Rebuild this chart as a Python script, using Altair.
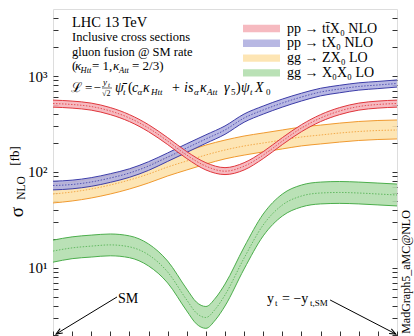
import altair as alt
import pandas as pd

FONT = "Liberation Serif"

# ---------------- data ----------------
alpha = [0, 10, 20, 30, 40, 50, 60, 70, 80, 90, 100, 110, 120, 130, 140, 150, 160, 170, 180]

ttx0_c = [517, 505, 481, 432, 365, 287, 210, 150, 115, 102, 115, 150, 210, 287, 365, 432, 481, 505, 517]
ttx0_hi = [561, 548, 522, 469, 396, 311, 228, 163, 125, 111, 125, 163, 228, 311, 396, 469, 522, 548, 561]
ttx0_lo = [474, 463, 441, 396, 335, 263, 193, 138, 105, 94, 105, 138, 193, 263, 335, 396, 441, 463, 474]

tx0_c = [72.3, 74.1, 78.7, 86.6, 97.6, 115.5, 143, 178, 221, 274, 365, 443, 523, 604, 681, 732, 778, 806, 836]
tx0_hi = [80.2, 82.2, 87.3, 96.0, 108, 128, 158, 197, 244, 302, 402, 487, 575, 662, 745, 800, 849, 878, 910]
tx0_lo = [65.1, 66.8, 70.9, 78.0, 88.0, 104, 129, 160, 199, 247, 330, 401, 474, 549, 621, 669, 713, 739, 767]

zx0_c = [59.0, 61.9, 66.5, 73.2, 82.5, 95.3, 112.7, 130.2, 150.4, 169.5, 186.6, 200.5, 215.4, 231.6, 242.9, 254.7, 264.2, 270.6, 273.8]
zx0_hi = [75, 78.6, 84.5, 93, 105, 121, 143, 165, 191, 215, 237, 255, 274, 294, 308, 323, 336, 344, 348]
zx0_lo = [47.6, 49.9, 53.6, 59, 66.5, 76.9, 90.9, 105, 121, 137, 150, 162, 174, 187, 196, 205, 213, 218, 221]

alpha_hh = [0, 10, 20, 30, 40, 50, 60, 70, 75, 80, 85, 90, 100, 110, 120, 130, 140, 150, 160, 170, 180]
x0x0_c = [15.0, 16.2, 16.9, 17.4, 16.6, 13.7, 9.08, 4.64, 3.40, 3.05, 3.74, 5.23, 12.7, 28.1, 45.3, 56.2, 60.4, 61.2, 60.4, 59.0, 57.6]
x0x0_hi = [19.5, 21.1, 22.0, 22.6, 21.6, 17.8, 11.8, 6.03, 4.42, 3.97, 4.86, 6.80, 16.5, 36.5, 58.9, 73.1, 78.5, 79.6, 78.5, 76.7, 74.9]
x0x0_lo = [11.5, 12.5, 13.0, 13.4, 12.8, 10.5, 6.98, 3.57, 2.62, 2.35, 2.88, 4.02, 9.77, 21.6, 34.8, 43.2, 46.5, 47.1, 46.5, 45.4, 44.3]

labels = ["pp \u2192 tt\u0304X\u2080  NLO", "pp \u2192 tX\u2080  NLO", "gg \u2192 ZX\u2080  LO", "gg \u2192 X\u2080X\u2080  LO"]
fills = ["#f5b3b9", "#b0b0e0", "#fde2ac", "#b3deae"]
edges = ["#e0363c", "#3c3ca8", "#f09a30", "#4cae4c"]

y_ticks = [2, 3, 4, 5, 6, 7, 8, 9, 10, 20, 30, 40, 50, 60, 70, 80, 90, 100,
           200, 300, 400, 500, 600, 700, 800, 900, 1000, 2000, 3000, 4000]
x_ticks = list(range(0, 181, 10))

# annotation arrows in data coordinates (alpha, sigma)
arrows = pd.DataFrame({
    "x1": [33.5, 145.0], "y1": [4.99, 4.64],
    "x2": [1.6, 179.4], "y2": [2.05, 2.05],
    "ang": [238.5, 117.0],
})

# ---------------- scales / axes ----------------
xs = alt.Scale(domain=[0, 180], nice=False, zero=False)
ys = alt.Scale(type="log", domain=[1.91, 4990], nice=False)

x_axis = alt.Axis(orient="bottom", values=x_ticks, labels=False, title=None, domain=False,
                  grid=False, offset=-6, tickSize=6, tickColor="#333")
y_axis = alt.Axis(orient="left", values=y_ticks, title=None, domain=False, grid=False,
                  offset=-5, tickSize=5, tickColor="#333", labelOverlap=False, labelFlush=False,
                  labelExpr="datum.value == 10 ? '10\u00b9' : datum.value == 100 ? '10\u00b2' : datum.value == 1000 ? '10\u00b3' : ''",
                  labelFont=FONT, labelFontSize=15, labelColor="black", labelPadding=6)
y_axis_r = alt.Axis(orient="right", values=y_ticks, title=None, domain=False, grid=False,
                    offset=-5, tickSize=5, tickColor="#333", labels=False)

fill_scale = alt.Scale(domain=labels, range=fills)
legend = alt.Legend(orient="none", legendX=190, legendY=12.5, title=None,
                    symbolType="M-1,-0.2L1,-0.2L1,0.2L-1,0.2Z", symbolSize=1369,
                    symbolStrokeWidth=0, symbolOpacity=0.9, clipHeight=14,
                    labelFont=FONT, labelFontSize=14, labelColor="black", labelOffset=7,
                    rowPadding=0.8, padding=0, labelLimit=300)

X = alt.X("alpha:Q", scale=xs, axis=x_axis)

procs = [  # draw order: bottom to top
    (labels[3], edges[3], alpha_hh, x0x0_c, x0x0_lo, x0x0_hi),
    (labels[2], edges[2], alpha, zx0_c, zx0_lo, zx0_hi),
    (labels[1], edges[1], alpha, tx0_c, tx0_lo, tx0_hi),
    (labels[0], edges[0], alpha, ttx0_c, ttx0_lo, ttx0_hi),
]

band_layers = []
for lab, edge, a, c, lo, hi in procs:
    df = pd.DataFrame({"alpha": a, "c": c, "lo": lo, "hi": hi, "proc": [lab] * len(a)})
    b = alt.Chart(df)
    band_layers.append(b.mark_area(interpolate="monotone", opacity=0.9).encode(
        x=X, y=alt.Y("lo:Q", scale=ys, axis=y_axis), y2="hi:Q",
        fill=alt.Fill("proc:N", scale=fill_scale, legend=legend)))
    for col in ["lo", "hi"]:
        band_layers.append(b.mark_line(interpolate="monotone", color=edge, strokeWidth=1).encode(
            x=X, y=alt.Y(f"{col}:Q", scale=ys, axis=y_axis)))
    band_layers.append(b.mark_line(interpolate="monotone", color=edge, strokeWidth=0.8,
                                   strokeDash=[1.5, 1.5]).encode(
        x=X, y=alt.Y("c:Q", scale=ys, axis=y_axis)))

arrow_base = alt.Chart(arrows)
band_layers.append(arrow_base.mark_rule(color="black", strokeWidth=1).encode(
    x=alt.X("x1:Q", scale=xs, axis=x_axis), y=alt.Y("y1:Q", scale=ys, axis=y_axis),
    x2="x2:Q", y2="y2:Q"))
band_layers.append(arrow_base.mark_point(shape="M-0.8,2L0,0L0.8,2", filled=False, size=40,
                                         strokeWidth=1, color="black", opacity=1).encode(
    x=alt.X("x2:Q", scale=xs, axis=x_axis), y=alt.Y("y2:Q", scale=ys, axis=y_axis),
    angle=alt.Angle("ang:Q", scale=None)))

bands = alt.layer(*band_layers)

right_df = pd.DataFrame({"alpha": alpha, "c": tx0_c})
right_layer = alt.Chart(right_df).mark_point(opacity=0).encode(
    x=X, y=alt.Y("c:Q", scale=ys, axis=y_axis_r))

plot = alt.layer(bands, right_layer).resolve_axis(y="independent")

# ---------------- text annotations ----------------
L0, T0 = 53, 9
one = pd.DataFrame({"k": [0]})


def txt(s, x, y, size, italic=False, angle=None, align="left", baseline="alphabetic"):
    kw = dict(text=s, fontSize=size, font=FONT, align=align, baseline=baseline, color="black")
    if italic:
        kw["fontStyle"] = "italic"
    if angle is not None:
        kw["angle"] = angle
    return alt.Chart(one).mark_text(**kw).encode(x=alt.value(x - L0), y=alt.value(y - T0))


segs = [
    ("LHC 13 TeV", 72, 27, 14.5, False),
    ("Inclusive cross sections", 72, 41, 12.5, False),
    ("gluon fusion @ SM rate", 72, 56, 12.5, False),
    ("(", 72, 70, 13, False), ("\u03ba", 75, 70, 13, True), ("Htt", 80.5, 73, 8.5, True),
    ("= 1,", 92, 70, 13, False), ("\u03ba", 113, 70, 13, True), ("Att", 119, 73, 8.5, True),
    ("= 2/3)", 132, 70, 13, False),
    ("\u2112", 71, 92, 13.5, False), ("=", 85, 92, 13, False), ("\u2212", 93.5, 92, 13, False),
    ("y", 103, 85, 9, True), ("t", 108, 87, 7, True), ("\u221a2", 102, 96, 8, False),
    ("\u03c8\u0304", 115, 92, 14, True), ("t", 123, 95, 9, True), ("(", 128, 92, 14, False),
    ("c", 132, 92, 14, True), ("\u03b1", 137.5, 95, 9, True), ("\u03ba", 143, 92, 14, True),
    ("Htt", 151, 95, 9, True), ("+", 172, 92, 14, False), ("i", 184, 92, 14, True),
    ("s", 188, 92, 14, True), ("\u03b1", 194, 95, 9, True), ("\u03ba", 200, 92, 14, True),
    ("Att", 207, 95, 9, True), ("\u03b3", 224, 92, 14, True), ("5", 231, 95, 9, False),
    (")", 236, 92, 14, False), ("\u03c8", 241, 92, 14, True), ("t", 250, 95, 9, True),
    ("X", 255, 92, 14, True), ("0", 266, 95, 9, False),
    ("SM", 118, 303, 14, False),
    ("y", 267, 303, 14, False), ("t", 275, 306, 9, False), ("= \u2212y", 282, 303, 14, False),
    ("t,SM", 310, 306, 9, False),
]
texts = [txt(s, x, y, sz, it) for s, x, y, sz, it in segs]

frac_bar = alt.Chart(one).mark_rule(color="black", strokeWidth=0.6).encode(
    x=alt.value(102 - L0), x2=alt.value(112 - L0), y=alt.value(88 - T0))

texts += [
    txt("\u03c3", 17, 212, 19, angle=270, align="center", baseline="middle"),
    txt("NLO", 21.5, 188, 11.5, angle=270, align="center", baseline="middle"),
    txt("[fb]", 15, 156, 13, angle=270, align="center", baseline="middle"),
    txt("MadGraph5_aMC@NLO", 405.5, 272, 12, angle=270, align="center", baseline="middle"),
    frac_bar,
]

chart = alt.layer(plot, *texts).properties(
    width=344, height=328,
    padding={"left": 53, "top": 9, "right": 17, "bottom": 0},
    autosize=alt.AutoSizeParams(type="none"),
).configure_view(stroke="#333", strokeWidth=1).configure(font=FONT)

chart.save("out.html", embed_options={"renderer": "svg", "actions": False})
